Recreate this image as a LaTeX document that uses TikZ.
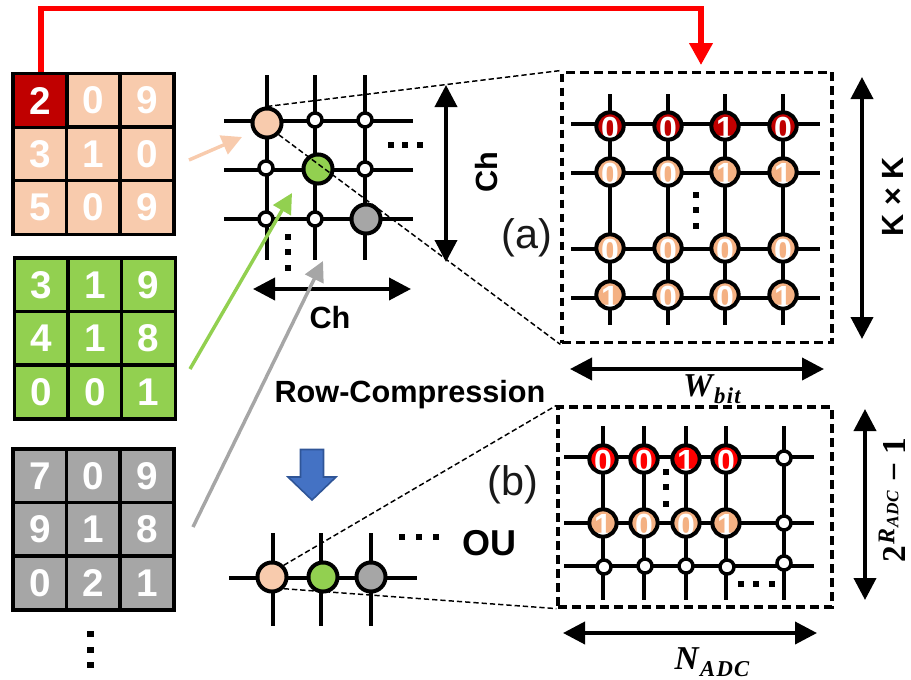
\documentclass[tikz,border=0pt]{standalone}
\usepackage{fontspec}
\setmainfont{Liberation Sans}
\newfontfamily\serb{Liberation Serif}[UprightFont={* Bold},ItalicFont={* Bold Italic}]
\usetikzlibrary{arrows.meta}
\definecolor{peach}{HTML}{F8CBAD}
\definecolor{peachb}{HTML}{F4B183}
\definecolor{dred}{HTML}{C00000}
\definecolor{lgreen}{HTML}{92D050}
\definecolor{lgray}{HTML}{A6A6A6}
\definecolor{blueA}{HTML}{4472C4}
\definecolor{blueB}{HTML}{2F5597}
\tikzset{
 cellbox/.style={draw=black,line width=2.7pt,minimum size=40.3pt,inner sep=0pt,text=white,font=\fontsize{29}{29}\selectfont\bfseries},
 wire/.style={line width=2.5pt,black},
 bigc/.style={circle,draw=black,line width=3pt,minimum size=21.8pt,inner sep=0pt},
 smallc/.style={circle,draw=black,fill=white,line width=2.6pt,minimum size=10.5pt,inner sep=0pt},
 bitfill/.style={circle,minimum size=20pt,inner sep=0pt},
 bitring/.style={circle,draw=black,line width=3pt,minimum size=20.5pt,inner sep=0pt},
 bittext/.style={text=white,inner sep=0pt,font=\fontsize{24}{24}\selectfont\bfseries},
 dotm/.style={fill=black,minimum size=5pt,inner sep=0pt},
 zoomline/.style={black,line width=1.1pt,dash pattern=on 4pt off 2.2pt},
 zoombox/.style={draw=black,line width=2.4pt,dash pattern=on 6.5pt off 4pt,inner sep=0pt},
 dim/.style={line width=2.9pt,black,{Triangle[length=16.5pt,width=16.5pt]}-{Triangle[length=16.5pt,width=16.5pt]}},
 feed/.style={line width=2.6pt,-{Triangle[length=15pt,width=15pt]}},
 lab/.style={font=\fontsize{23}{23}\selectfont\bfseries,inner sep=0pt},
 letter/.style={font=\fontsize{31}{31}\selectfont,inner sep=0pt,text=black!90},
 mth/.style={inner sep=0pt,font=\serb\itshape\fontsize{25}{25}\selectfont},
}
\newcommand{\bitn}[5]{%
 \node[bitfill,fill=#4] (#1-f) at (#2,#3) {};
 \node[bittext] (#1-d) at (#2,#3+2.5) {#5};
 \node[bitring] (#1) at (#2,#3) {};
}
\newcommand{\subt}[1]{{\fontsize{17}{17}\selectfont\raisebox{-5pt}{#1}}}
\begin{document}
\begin{tikzpicture}[x=0.75pt,y=-0.75pt]
\useasboundingbox (0,0) rectangle (911,679);
% matrices
\foreach \v [count=\k] in {2,0,9,3,1,0,5,0,9}{
  \pgfmathtruncatemacro{\c}{mod(\k-1,3)}
  \pgfmathtruncatemacro{\r}{int((\k-1)/3)}
  \node[cellbox,fill=peach] (ma\k) at (40+53.5*\c,100.5+53.5*\r) {\v};
}
\node[cellbox,fill=dred] (ma1) at (40,100.5) {2};
\foreach \v [count=\k] in {3,1,9,4,1,8,0,0,1}{
  \pgfmathtruncatemacro{\c}{mod(\k-1,3)}
  \pgfmathtruncatemacro{\r}{int((\k-1)/3)}
  \node[cellbox,fill=lgreen] (mb\k) at (41.5+53.5*\c,285+53.5*\r) {\v};
}
\foreach \v [count=\k] in {7,0,9,9,1,8,0,2,1}{
  \pgfmathtruncatemacro{\c}{mod(\k-1,3)}
  \pgfmathtruncatemacro{\r}{int((\k-1)/3)}
  \node[cellbox,fill=lgray] (mc\k) at (40+53.5*\c,476+53.5*\r) {\v};
}
\foreach \y [count=\k] in {634,650,665} \node[dotm] (dm\k) at (90.5,\y) {};
% crossbar
\foreach \x [count=\k] in {267,315,365}{
  \coordinate (xt\k) at (\x,75); \coordinate (xb\k) at (\x,260);
  \draw[wire] (xt\k) -- (xb\k);
}
\foreach \y [count=\k] in {121,170,219}{
  \coordinate (xl\k) at (224,\y); \coordinate (xr\k) at (413,\y);
  \draw[wire] (xl\k) -- (xr\k);
}
\node[bigc,fill=peach] (pc) at (267,123) {};
\node[bigc,fill=lgreen] (gc) at (318,169) {};
\node[bigc,fill=lgray] (yc) at (366,219) {};
\foreach \x/\y [count=\k] in {315/120,365/120,266/168,365/169,266/219,315/219}
  \node[smallc] (sc\k) at (\x,\y) {};
\foreach \x [count=\k] in {391,405,420} \node[dotm] (dx\k) at (\x,145) {};
\foreach \y [count=\k] in {237,252,268} \node[dotm] (dy\k) at (288,\y) {};
% dimension arrows of crossbar
\coordinate (chvt) at (446,85); \coordinate (chvb) at (446,262);
\draw[dim] (chvt) -- (chvb);
\coordinate (chhl) at (253,289); \coordinate (chhr) at (411,289);
\draw[dim] (chhl) -- (chhr);
\node[lab] (chh) at (330,318) {Ch};
\node[lab,rotate=90] (chv) at (487,172) {Ch};
% box a
\node[zoombox,minimum width=202.5pt,minimum height=203pt] (boxa) at (697,207.5) {};
\foreach \x [count=\k] in {610,668,725,783}{
  \coordinate (at\k) at (\x,94); \coordinate (ab\k) at (\x,325);
  \draw[wire] (at\k) -- (ab\k);
}
\foreach \y [count=\k] in {124,173,249,298}{
  \coordinate (al\k) at (571,\y); \coordinate (ar\k) at (820,\y);
  \draw[wire] (al\k) -- (ar\k);
}
\bitn{a11}{610}{126}{dred}{0}\bitn{a12}{668}{126}{dred}{0}\bitn{a13}{725}{126}{dred}{1}\bitn{a14}{783}{126}{dred}{0}
\bitn{a21}{610}{172}{peachb}{0}\bitn{a22}{668}{172}{peachb}{0}\bitn{a23}{725}{172}{peachb}{1}\bitn{a24}{783}{172}{peachb}{1}
\bitn{a31}{610}{248}{peachb}{0}\bitn{a32}{668}{248}{peachb}{0}\bitn{a33}{725}{248}{peachb}{0}\bitn{a34}{783}{248}{peachb}{0}
\bitn{a41}{610}{295}{peachb}{1}\bitn{a42}{668}{295}{peachb}{0}\bitn{a43}{725}{295}{peachb}{0}\bitn{a44}{783}{295}{peachb}{1}
\foreach \y [count=\k] in {195,210,226} \node[dotm] (da\k) at (696,\y) {};
\node[letter] (la) at (527,238) {(a)};
\coordinate (kt) at (862,77); \coordinate (kb) at (862,339);
\draw[dim] (kt) -- (kb);
\node[lab,rotate=90] (kk) at (893,197) {K × K};
\coordinate (wl) at (570,369); \coordinate (wr) at (824,369);
\draw[dim] (wl) -- (wr);
\node[mth] (wb) at (712,389) {W\hspace{1pt}\subt{b\kern1pt i\kern1pt t}};
% compression
\node[lab] (rc) at (410,395) {Row-Compression};
\draw[draw=blueB,fill=blueA,line width=1.2pt] (300.5,449.5) -- (323.5,449.5) -- (323.5,477) -- (336,477) -- (312,500) -- (288,477) -- (300.5,477) -- cycle;
% OU row
\foreach \x [count=\k] in {273,321,371}{
  \coordinate (ot\k) at (\x,533); \coordinate (ob\k) at (\x,626);
  \draw[wire] (ot\k) -- (ob\k);
}
\coordinate (ol) at (229,578); \coordinate (or) at (417,578);
\draw[wire] (ol) -- (or);
\node[bigc,fill=peach] (op) at (272,577) {};
\node[bigc,fill=lgreen] (og) at (323,577) {};
\node[bigc,fill=lgray] (oy) at (371,577) {};
\foreach \x [count=\k] in {402,419,436} \node[dotm] (dz\k) at (\x,537) {};
\node[lab,font=\fontsize{27}{27}\selectfont\bfseries] (ou) at (489,543) {OU};
% box b
\node[zoombox,minimum width=205.5pt,minimum height=150pt] (boxb) at (695,507) {};
\foreach \x [count=\k] in {603,644,686,726,784}{
  \coordinate (bt\k) at (\x,426); \coordinate (bb\k) at (\x,600);
  \draw[wire] (bt\k) -- (bb\k);
}
\foreach \y [count=\k] in {457,523,566}{
  \coordinate (bl\k) at (564,\y); \coordinate (br\k) at (814,\y);
  \draw[wire] (bl\k) -- (br\k);
}
\bitn{b11}{603}{459}{red}{0}\bitn{b12}{644}{459}{red}{0}\bitn{b13}{686}{459}{red}{1}\bitn{b14}{726}{459}{red}{0}
\bitn{b21}{603}{523}{peachb}{1}\bitn{b22}{644}{523}{peachb}{0}\bitn{b23}{686}{523}{peachb}{0}\bitn{b24}{726}{523}{peachb}{1}
\foreach \x/\y [count=\k] in {604/567,645/566,686/566,727/567,784/563,784/523,784/458}
  \node[smallc] (bs\k) at (\x,\y) {};
\foreach \y [count=\k] in {472,487,504} \node[dotm] (db\k) at (666,\y) {};
\foreach \x [count=\k] in {741,756,772} \node[dotm] (dc\k) at (\x,584) {};
\node[letter] (lb) at (513,485) {(b)};
\coordinate (rt) at (865,409); \coordinate (rb) at (865,600);
\draw[dim] (rt) -- (rb);
\node[inner sep=0pt,rotate=90,anchor=base west,font=\serb\fontsize{25}{25}\selectfont] (rl) at (905,563) {2\hspace{1pt}\raisebox{8pt}{\itshape\fontsize{18}{18}\selectfont R\hspace{1pt}\fontsize{13}{13}\selectfont\raisebox{-3pt}{A\kern.5pt D\kern.5pt C}}\hspace{7pt}−\hspace{6pt}1};
\coordinate (nl) at (563,633); \coordinate (nr) at (817,633);
\draw[dim] (nl) -- (nr);
\node[mth] (nb) at (712,662) {N\hspace{1pt}\subt{A\kern1pt D\kern1pt C}};
% zoom guides
\draw[zoomline] (pc.north) -- (boxa.north west);
\draw[zoomline] (pc.south east) -- (boxa.south west);
\draw[zoomline] (op.north east) -- (boxb.north west);
\draw[zoomline] (op.south east) -- (boxb.south west);
% feeds
\coordinate (pa0) at (189,160); \coordinate (pa1) at (242,137);
\draw[feed,peach] (pa0) -- (pa1);
\coordinate (ga0) at (190,369); \coordinate (ga1) at (292,193);
\draw[feed,lgreen] (ga0) -- (ga1);
\coordinate (ya0) at (193,527); \coordinate (ya1) at (323,261);
\draw[feed,lgray] (ya0) -- (ya1);
% red link
\coordinate (rtop) at (701,8.5); \coordinate (rtip) at (701,65);
\draw[red,line width=3.8pt,-{Triangle[length=16.5pt,width=17pt]}] (ma1.north -| 41,73) -- (41,8.5) -- (rtop) -- (rtip);
\end{tikzpicture}
\end{document}
